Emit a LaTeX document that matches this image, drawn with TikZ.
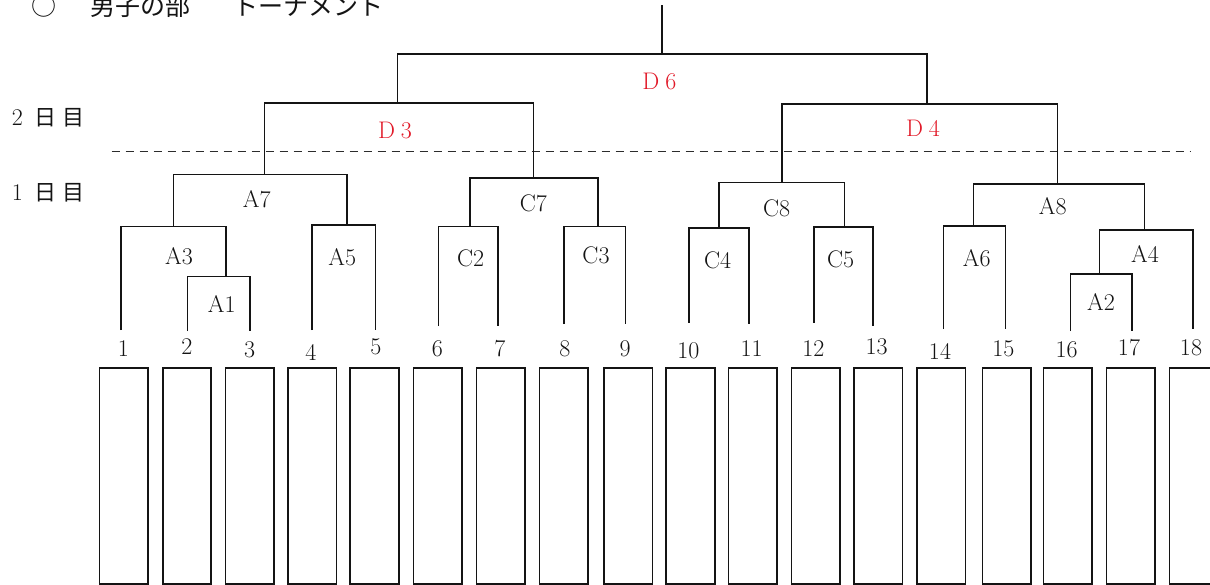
\documentclass[tikz,border=0pt]{standalone}
\usepackage{fontspec}
\newfontfamily\jp{Noto Sans CJK JP}
\definecolor{lblred}{RGB}{225,25,40}
\definecolor{ink}{RGB}{20,20,20}
\begin{document}
\begin{tikzpicture}[x=1pt,y=-1pt,
  br/.style={line width=1.6pt,draw=ink},
  lbl/.style={font=\fontsize{24}{26}\selectfont,inner sep=0pt,text=ink},
  redlbl/.style={font=\fontsize{24}{26}\selectfont,inner sep=0pt,text=lblred},
  num/.style={font=\fontsize{24}{26}\selectfont,inner sep=0pt,text=ink},
  jpl/.style={font=\jp\fontsize{22}{26}\selectfont,inner sep=0pt,text=ink},
  ttl/.style={font=\jp\fontsize{25}{28}\selectfont,inner sep=0pt,text=ink,anchor=base},
  slot/.style={draw=ink,line width=1.6pt,minimum width=48.5pt,minimum height=216pt,inner sep=0pt,anchor=north west},
  dayline/.style={line width=1.4pt,draw=ink!90,dash pattern=on 8pt off 6pt}]
\path[use as bounding box] (0,0) rectangle (1210,585);
\clip (0,0) rectangle (1210,585);

% title
\node[ttl] (tcircle) at (44,16) {○};
\node[ttl] (tmale) at (140,16) {男子の部};
\node[ttl] (ttour) at (308,16) {トーナメント};

% day labels
\node[num] (d2n) at (17.5,118) {2};
\node[jpl] (d2a) at (45,118) {日};
\node[jpl] (d2b) at (73,118) {目};
\node[num] (d1n) at (17.5,193) {1};
\node[jpl] (d1a) at (45,193) {日};
\node[jpl] (d1b) at (73,193) {目};

% dashed day separator
\coordinate (dl) at (111.7,151.7);
\coordinate (dr) at (1190,151.7);
\draw[dayline] (dl) -- (dr);

% slot boxes
\foreach \i/\x in {1/98.7,2/161.9,3/224.6,4/287,5/349.4,6/412.5,7/475.7,8/538.8,9/603.1,10/665.4,11/727.6,12/790.6,13/853.3,14/916.3,15/981.6,16/1042.7,17/1105.5,18/1168.5}
  \node[slot] (b\i) at (\x,367) {};

% player numbers
\foreach \i/\x/\y in {1/123.3/349,2/187/347,3/249.7/350,4/311/352,5/376/347,6/437.3/349,7/500/349,8/565/349,9/625/349,10/688.3/351,11/751.7/349,12/813.3/349,13/876.7/347,14/940/351,15/1003.3/349,16/1066.7/350,17/1129/348,18/1191/348}
  \node[num] (n\i) at (\x,\y) {\i};

% player leg ends
\foreach \i/\x/\y in {1/120.7/330,2/187.3/331,3/249.7/331,4/311.7/330,5/375.3/330,6/438.3/326,7/498/326,8/563.7/324,9/625.3/324,10/688.7/323,11/748.7/324,12/814/323,13/872.7/326,14/943.3/329,15/1005.3/329,16/1070.3/331,17/1131.7/331,18/1192.7/329}
  \coordinate (p\i) at (\x,\y);

% match bars
\coordinate (A1l) at (187.3,276.7); \coordinate (A1r) at (249.7,276.7); \coordinate (A1m) at (225.7,276.7);
\coordinate (A3l) at (120.7,226.7); \coordinate (A3r) at (225.7,226.7); \coordinate (A3m) at (173.3,226.7);
\coordinate (A5l) at (311.7,225.3); \coordinate (A5r) at (375.3,225.3); \coordinate (A5m) at (346.7,225.3);
\coordinate (A7l) at (173.3,174.7); \coordinate (A7r) at (346.7,174.7); \coordinate (A7m) at (264.3,174.7);
\coordinate (C2l) at (438.3,226.7); \coordinate (C2r) at (498,226.7);   \coordinate (C2m) at (470,226.7);
\coordinate (C3l) at (563.7,226.7); \coordinate (C3r) at (625.3,226.7); \coordinate (C3m) at (597.7,226.7);
\coordinate (C7l) at (470,178.3);   \coordinate (C7r) at (597.7,178.3); \coordinate (C7m) at (533.3,178.3);
\coordinate (D3l) at (264.3,103.3); \coordinate (D3r) at (533.3,103.3); \coordinate (D3m) at (397.3,103.3);
\coordinate (C4l) at (688.7,228.3); \coordinate (C4r) at (748.7,228.3); \coordinate (C4m) at (719,228.3);
\coordinate (C5l) at (814,227.3);   \coordinate (C5r) at (872.7,227.3); \coordinate (C5m) at (844.3,227.3);
\coordinate (C8l) at (719,182.7);   \coordinate (C8r) at (844.3,182.7); \coordinate (C8m) at (781.7,182.7);
\coordinate (A6l) at (943.3,226);   \coordinate (A6r) at (1005.3,226);  \coordinate (A6m) at (973.3,226);
\coordinate (A2l) at (1070.3,274.3); \coordinate (A2r) at (1131.7,274.3); \coordinate (A2m) at (1099.3,274.3);
\coordinate (A4l) at (1099.3,230);  \coordinate (A4r) at (1192.7,230);  \coordinate (A4m) at (1144.3,230);
\coordinate (A8l) at (973.3,184);   \coordinate (A8r) at (1144.3,184);  \coordinate (A8m) at (1057.3,184);
\coordinate (D4l) at (781.7,104.3); \coordinate (D4r) at (1057.3,104.3); \coordinate (D4m) at (926.7,104.3);
\coordinate (D6l) at (397.3,54);    \coordinate (D6r) at (926.7,54);    \coordinate (D6m) at (661.7,54);
\coordinate (top) at (661.7,5);

% brackets
\draw[br] (p2) -- (A1l) -- (A1r) -- (p3);
\draw[br] (p1) -- (A3l) -- (A3r) -- (A1m);
\draw[br] (p4) -- (A5l) -- (A5r) -- (p5);
\draw[br] (A3m) -- (A7l) -- (A7r) -- (A5m);
\draw[br] (p6) -- (C2l) -- (C2r) -- (p7);
\draw[br] (p8) -- (C3l) -- (C3r) -- (p9);
\draw[br] (C2m) -- (C7l) -- (C7r) -- (C3m);
\draw[br] (A7m) -- (D3l) -- (D3r) -- (C7m);
\draw[br] (p10) -- (C4l) -- (C4r) -- (p11);
\draw[br] (p12) -- (C5l) -- (C5r) -- (p13);
\draw[br] (C4m) -- (C8l) -- (C8r) -- (C5m);
\draw[br] (p14) -- (A6l) -- (A6r) -- (p15);
\draw[br] (p16) -- (A2l) -- (A2r) -- (p17);
\draw[br] (A2m) -- (A4l) -- (A4r) -- (p18);
\draw[br] (A6m) -- (A8l) -- (A8r) -- (A4m);
\draw[br] (C8m) -- (D4l) -- (D4r) -- (A8m);
\draw[br] (D3m) -- (D6l) -- (D6r) -- (D4m);
\draw[br] (D6m) -- (top);

% match labels
\node[lbl] (A1) at (221.7,304) {A1};
\node[lbl] (A3) at (179,256) {A3};
\node[lbl] (A5) at (342.3,257.3) {A5};
\node[lbl] (A7) at (256.7,199.3) {A7};
\node[lbl] (C2) at (470.7,258.3) {C2};
\node[lbl] (C3) at (596,255.3) {C3};
\node[lbl] (C7) at (533.3,203.3) {C7};
\node[lbl] (C4) at (717.7,260) {C4};
\node[lbl] (C5) at (840.7,259.3) {C5};
\node[lbl] (C8) at (776.7,208.3) {C8};
\node[lbl] (A6) at (976.7,258.3) {A6};
\node[lbl] (A2) at (1101,301.7) {A2};
\node[lbl] (A4) at (1145,254) {A4};
\node[lbl] (A8) at (1052.7,206.7) {A8};
\node[redlbl] (D3) at (395,130) {D\hspace{6pt}3};
\node[redlbl] (D4) at (923,128.3) {D\hspace{6pt}4};
\node[redlbl] (D6) at (659.3,81.7) {D\hspace{6pt}6};
\end{tikzpicture}
\end{document}
